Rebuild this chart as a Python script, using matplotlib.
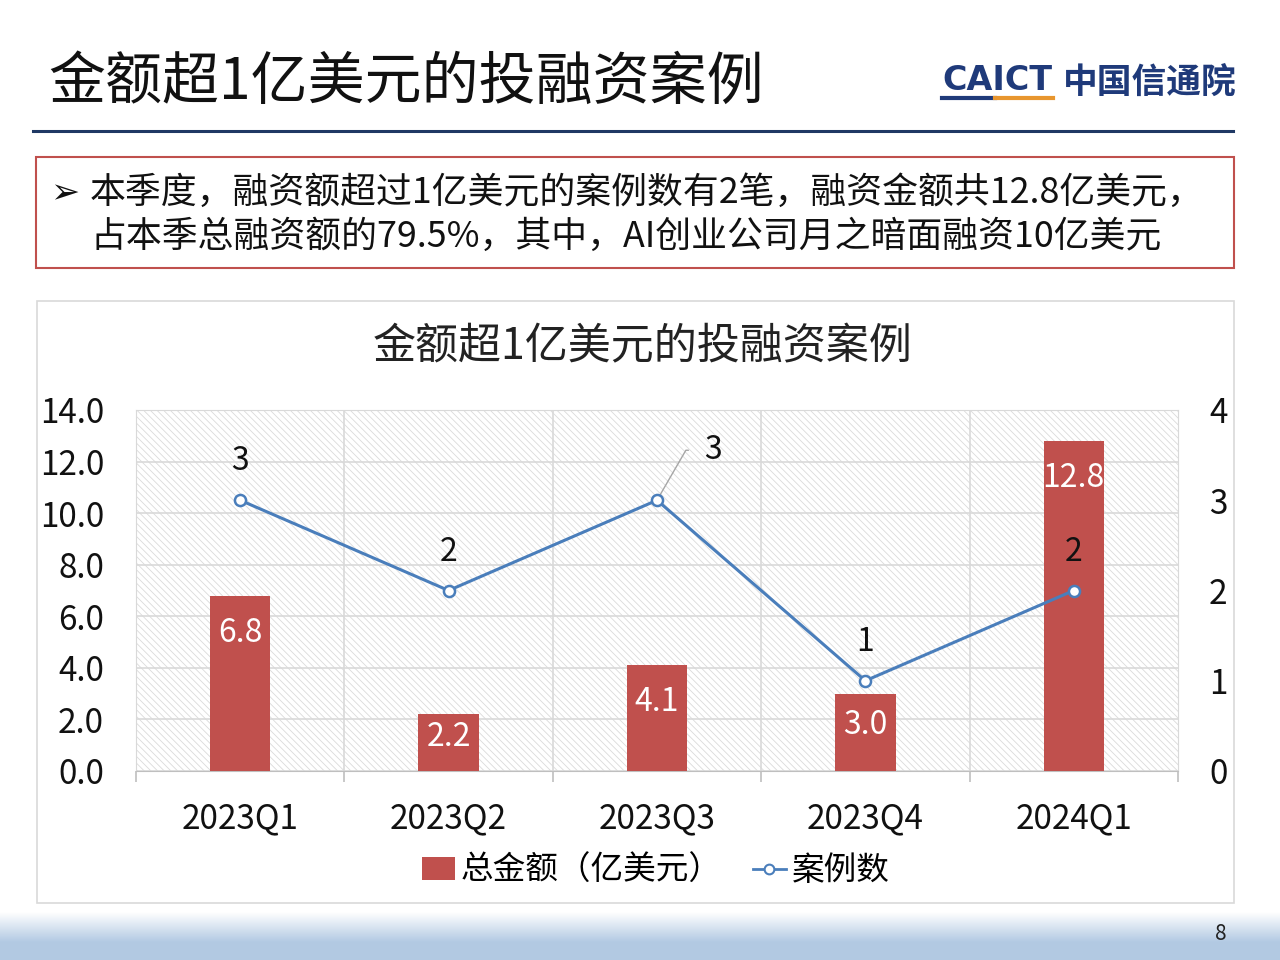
import matplotlib
matplotlib.use("Agg")
import matplotlib.pyplot as plt
import numpy as np
from matplotlib.patches import Rectangle
from matplotlib.lines import Line2D

plt.rcParams['font.family'] = ['Noto Sans CJK SC', 'DejaVu Sans']
plt.rcParams['hatch.linewidth'] = 0.6
plt.rcParams['hatch.color'] = '#D9D9D9'

# ---- data ----
categories = ['2023Q1', '2023Q2', '2023Q3', '2023Q4', '2024Q1']
amounts = [6.8, 2.2, 4.1, 3.0, 12.8]
cases = [3, 2, 3, 1, 2]
left_ticks = [0, 2, 4, 6, 8, 10, 12, 14]
right_ticks = [0, 1, 2, 3, 4]
bar_name = '总金额（亿美元）'
line_name = '案例数'
page_title = '金额超1亿美元的投融资案例'
chart_title = '金额超1亿美元的投融资案例'
note_lines = ['本季度，融资额超过1亿美元的案例数有2笔，融资金额共12.8亿美元，',
              '占本季总融资额的79.5%，其中，AI创业公司月之暗面融资10亿美元']

W, H = 1280, 960
fig = plt.figure(figsize=(12.8, 9.6), dpi=100)

def fx(x): return x / W
def fy(y): return 1 - y / H

# background overlay axes
bg = fig.add_axes([0, 0, 1, 1])
bg.set_xlim(0, W); bg.set_ylim(H, 0); bg.axis('off')

# bottom gradient band
grad = np.linspace(0, 1, 100)
c_top = np.array([1.0, 1.0, 1.0]); c_bot = np.array([0.70, 0.79, 0.89])
t = np.clip(grad * 1.6, 0, 1)[:, None]
img = (c_top + (c_bot - c_top) * t).reshape(100, 1, 3)
bg.imshow(img, extent=[0, W, 960, 912], aspect='auto', zorder=0)
bg.set_xlim(0, W); bg.set_ylim(H, 0)
bg.text(1221, 934, '8', fontsize=15, ha='center', va='center', color='#222222')

# page title
bg.text(48, 83, page_title, fontsize=41, ha='left', va='center', color='#111111')
bg.plot([33, 1233], [131, 131], color='#1F3864', lw=2.2)

# logo
bg.text(942, 81, 'CAICT', fontsize=24, fontweight='heavy',
        ha='left', va='center', color='#1F3A7A', family=['DejaVu Sans'])
bg.plot([942, 995], [98, 98], color='#1F3A7A', lw=3)
bg.plot([995, 1053], [98, 98], color='#E8962E', lw=3)
bg.text(1063, 82, '中国信通院', fontsize=25, fontweight='bold', ha='left', va='center',
        color='#1F3A7A')

# red note box
bg.add_patch(Rectangle((36, 157), 1198, 111, fill=False, edgecolor='#C0504D', lw=1.5))
bg.text(50, 193, '➢', fontsize=25, ha='left', va='center', color='#111111',
        family=['DejaVu Sans'])
bg.text(90, 193, note_lines[0], fontsize=25.8, ha='left', va='center', color='#111111')
bg.text(90, 237, note_lines[1], fontsize=25.8, ha='left', va='center', color='#111111')

# chart frame
bg.add_patch(Rectangle((37, 301), 1197, 602, fill=False, edgecolor='#D9D9D9', lw=1.2))
bg.text(643, 347, chart_title, fontsize=31, ha='center', va='center', color='#222222')

# main axes
L, R, T, B = 136, 1178, 410, 771
ax = fig.add_axes([fx(L), fy(B), fx(R - L), (B - T) / H])
ax.set_facecolor('white')
ax.add_patch(Rectangle((0, 0), 1, 1, transform=ax.transAxes, facecolor='white',
                       edgecolor='#DADADA', lw=0, hatch='\\\\\\\\\\', zorder=0))
x = np.arange(len(categories))
ax.set_xlim(-0.5, len(categories) - 0.5)
ax.set_ylim(0, 14)
ax.set_yticks(left_ticks)
ax.set_yticklabels([f'{v:.1f}' for v in left_ticks])
ax.yaxis.grid(True, color='#D9D9D9', lw=1.2, zorder=1)
for b in np.arange(0.5, len(categories) - 0.5, 1):
    ax.axvline(b, color='#D9D9D9', lw=1.2, zorder=1)
ax.set_axisbelow(True)
for s in ['top', 'right', 'left']:
    ax.spines[s].set_visible(True)
    ax.spines[s].set_color('#D9D9D9')
ax.spines['bottom'].set_color('#BFBFBF')
ax.tick_params(axis='y', length=0, pad=23, labelsize=24, labelcolor='#111111')
ax.set_xticks(x)
ax.set_xticklabels(categories)
ax.tick_params(axis='x', length=0, pad=22, labelsize=24, labelcolor='#111111')
ax.set_xticks(np.arange(-0.5, len(categories), 1), minor=True)
ax.tick_params(axis='x', which='minor', length=8, color='#BFBFBF', width=1.2)

bars = ax.bar(x, amounts, width=0.29, color='#C0504D', zorder=3, label=bar_name)
px_per_unit = (B - T) / 14
for xi, v in zip(x, amounts):
    off = min(37, v * px_per_unit * 0.4) * 0.72
    ax.annotate(f'{v:.1f}', (xi, v), xytext=(0, -off), textcoords='offset points',
                ha='center', va='center', fontsize=23, color='white', zorder=5)

ax2 = ax.twinx()
ax2.set_ylim(0, 4)
ax2.set_yticks(right_ticks)
ax2.tick_params(axis='y', length=0, pad=29, labelsize=24, labelcolor='#111111')
for lab in ax2.get_yticklabels():
    lab.set_horizontalalignment('center')
for s in ax2.spines.values():
    s.set_visible(False)
ax2.plot(x, cases, color='#4A7EBB', lw=2.2, marker='o', markersize=8,
         markerfacecolor='white', markeredgecolor='#4A7EBB', markeredgewidth=1.8,
         zorder=4, label=line_name)
for i, (xi, v) in enumerate(zip(x, cases)):
    if i == 2:
        ax2.annotate(str(v), (xi, v), xytext=(40, 36), textcoords='offset points',
                     ha='center', va='center', fontsize=23, color='#111111',
                     arrowprops=dict(arrowstyle='-', color='#A6A6A6', lw=1,
                                     shrinkA=9, shrinkB=4,
                                     connectionstyle='angle,angleA=0,angleB=60,rad=0'))
    else:
        ax2.annotate(str(v), (xi, v), xytext=(0, 28), textcoords='offset points',
                     ha='center', va='center', fontsize=23, color='#111111')

handles = [Rectangle((0, 0), 1, 1, facecolor='#C0504D'),
           Line2D([0], [0], color='#4A7EBB', lw=2, marker='o', markersize=7,
                  markerfacecolor='white', markeredgecolor='#4A7EBB', markeredgewidth=1.5)]
fig.legend(handles, [bar_name, line_name], loc='center', bbox_to_anchor=(fx(656), fy(871)),
           ncol=2, frameon=False, fontsize=23.5, handlelength=1.0, handletextpad=0.2,
           columnspacing=0.95)

fig.savefig('out.png', dpi=100)
